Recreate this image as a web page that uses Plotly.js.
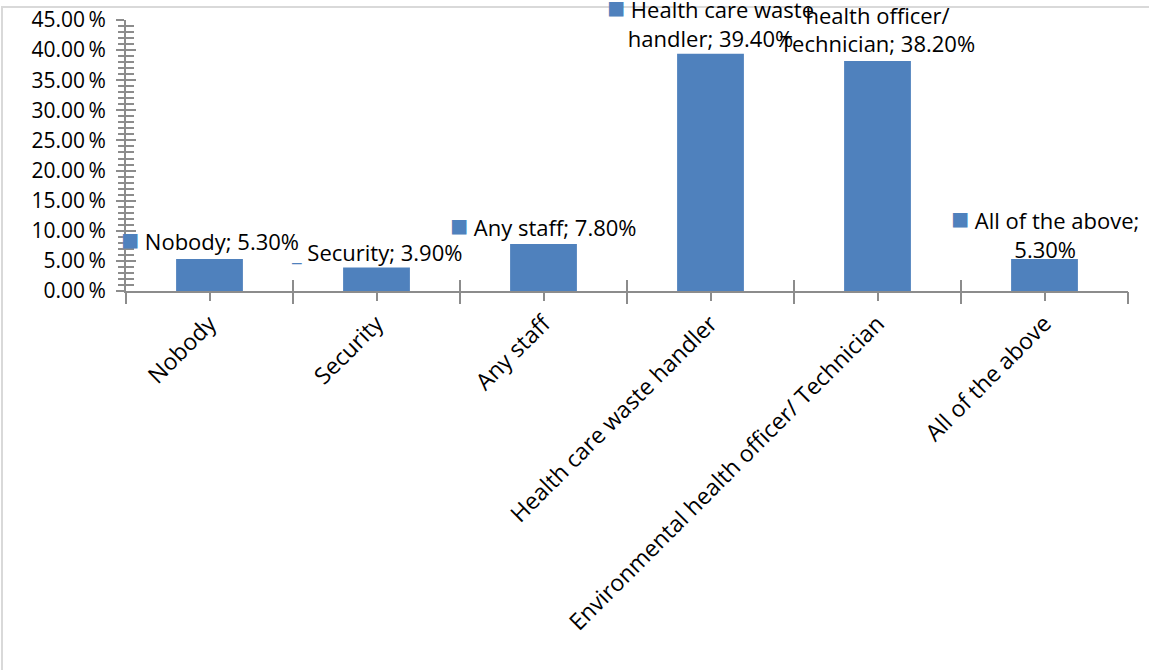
<!DOCTYPE html>
<html>
<head>
<meta charset="utf-8">
<script src="https://cdn.plot.ly/plotly-3.0.1.min.js"></script>
<style>
  html, body { margin: 0; padding: 0; background: #fff; }
  #chart { width: 1149px; height: 670px; }
</style>
</head>
<body>
<div id="chart"></div>
<script>
// Who handles health care waste – share of responses
const categories = [
  "Nobody",
  "Security",
  "Any staff",
  "Health care waste handler",
  "Environmental health officer/ Technician",
  "All of the above"
];
const shares = [5.3, 3.9, 7.8, 39.4, 38.2, 5.3];

const yTickValues = [0, 5, 10, 15, 20, 25, 30, 35, 40, 45];
const yTickLabels = ["0.00\u2009%", "5.00\u2009%", "10.00\u2009%", "15.00\u2009%", "20.00\u2009%",
                     "25.00\u2009%", "30.00\u2009%", "35.00\u2009%", "40.00\u2009%", "45.00\u2009%"];

// Data label text, one per bar (category name wrapped where it runs long)
const labelNames = [
  "Nobody;",
  "Security;",
  "Any staff;",
  "Health care waste<br>handler;",
  "Environmental<br>health officer/<br>Technician;",
  "All of the above;<br>"
];

const BAR = "#4f81bd";
const AXIS = "#8c8c8c";
const FONT = "'Open Sans', 'Noto Sans', sans-serif";

// placement of each data label: anchor height (axis units) plus a pixel nudge, and its key glyph
const labelY = [8.3, 6.5, 10.6, 45, 45, 9.5];
const labelShift = [3, 0, 3, 1, 10, 3];
const keyGlyph = [
  `<span style="font-size:30px">■</span>`,
  `<span style="font-size:22px">_</span>`,
  `<span style="font-size:30px">■</span>`,
  `<span style="font-size:30px">■</span>`,
  `<span style="font-size:30px">■</span>`,
  `<span style="font-size:30px">■</span>`
];

const fmt = v => v.toFixed(2) + "%";

const annotations = categories.map((c, i) => {
  const name = labelNames[i];
  const body = name.endsWith("<br>") ? name + fmt(shares[i]) : name + " " + fmt(shares[i]);
  return {
    x: i, y: labelY[i], yshift: labelShift[i], xref: "x", yref: "y",
    text: `<span style="color:${BAR}">${keyGlyph[i]}</span> ` + body,
    showarrow: false, xanchor: "center", yanchor: "middle", align: "center",
    font: { family: FONT, size: 22, color: "#000" }
  };
});

const trace = {
  type: "bar",
  x: categories.map((_, i) => i),
  y: shares,
  width: 0.4,
  marker: { color: BAR },
  hoverinfo: "skip",
  cliponaxis: false
};

const layout = {
  width: 1149, height: 670,
  margin: { l: 126, r: 21, t: 20, b: 379 },
  paper_bgcolor: "#fff", plot_bgcolor: "#fff",
  showlegend: false,
  font: { family: FONT, size: 21, color: "#000" },
  xaxis: {
    type: "linear", range: [-0.5, 5.5],
    tickvals: categories.map((_, i) => i), ticktext: categories,
    tickangle: -45, ticks: "outside", ticklen: 8, tickwidth: 2, tickcolor: AXIS,
    showline: true, linecolor: AXIS, linewidth: 2,
    showgrid: false, zeroline: false, fixedrange: true,
    tickfont: { family: FONT, size: 23, color: "#000" }
  },
  xaxis2: {
    overlaying: "x", anchor: "y", range: [-0.5, 5.5],
    tickvals: [-0.5, 0.5, 1.5, 2.5, 3.5, 4.5, 5.5],
    ticks: "outside", ticklen: 12, tickwidth: 2, tickcolor: AXIS,
    showticklabels: false, showgrid: false, zeroline: false, showline: false
  },
  xaxis3: {
    overlaying: "x", anchor: "y", range: [-0.5, 5.5],
    tickvals: [-0.5, 0.5, 1.5, 2.5, 3.5, 4.5, 5.5],
    ticks: "inside", ticklen: 11, tickwidth: 2, tickcolor: AXIS,
    showticklabels: false, showgrid: false, zeroline: false, showline: false
  },
  yaxis: {
    range: [0, 45], tickvals: yTickValues, ticktext: yTickLabels,
    ticks: "outside", ticklen: 8, tickwidth: 2, tickcolor: AXIS,
    ticklabelstandoff: 6,
    minor: { dtick: 1, ticks: "outside", ticklen: 6, tickwidth: 2, tickcolor: AXIS },
    showline: true, linecolor: AXIS, linewidth: 2,
    showgrid: false, zeroline: false, fixedrange: true,
    tickfont: { family: FONT, size: 21, color: "#000" }
  },
  yaxis2: {
    overlaying: "y", anchor: "x", side: "left", range: [0, 45],
    tickvals: yTickValues,
    ticks: "inside", ticklen: 10, tickwidth: 2, tickcolor: AXIS,
    minor: { dtick: 1, ticks: "inside", ticklen: 8, tickwidth: 2, tickcolor: AXIS },
    showticklabels: false, showgrid: false, zeroline: false, showline: false
  },
  shapes: [
    // chart frame (top and left edges)
    { type: "line", xref: "paper", yref: "paper",
      x0: -125 / 1002, x1: 1030 / 1002, y0: 1 + 13 / 271, y1: 1 + 13 / 271,
      line: { color: "#d9d9d9", width: 2 } },
    { type: "line", xref: "paper", yref: "paper",
      x0: -124 / 1002, x1: -124 / 1002, y0: 1 + 13 / 271, y1: -400 / 271,
      line: { color: "#d9d9d9", width: 2 } }
  ],
  annotations: annotations
};

// invisible traces so the overlay axes are drawn
const tx2 = { type: "scatter", x: [0], y: [0], xaxis: "x2", yaxis: "y", mode: "none", hoverinfo: "skip" };
const tx3 = { type: "scatter", x: [0], y: [0], xaxis: "x3", yaxis: "y", mode: "none", hoverinfo: "skip" };
const ty2 = { type: "scatter", x: [0], y: [0], xaxis: "x", yaxis: "y2", mode: "none", hoverinfo: "skip" };

Plotly.newPlot("chart", [trace, tx2, tx3, ty2], layout, { displayModeBar: false, staticPlot: true });
</script>
</body>
</html>
